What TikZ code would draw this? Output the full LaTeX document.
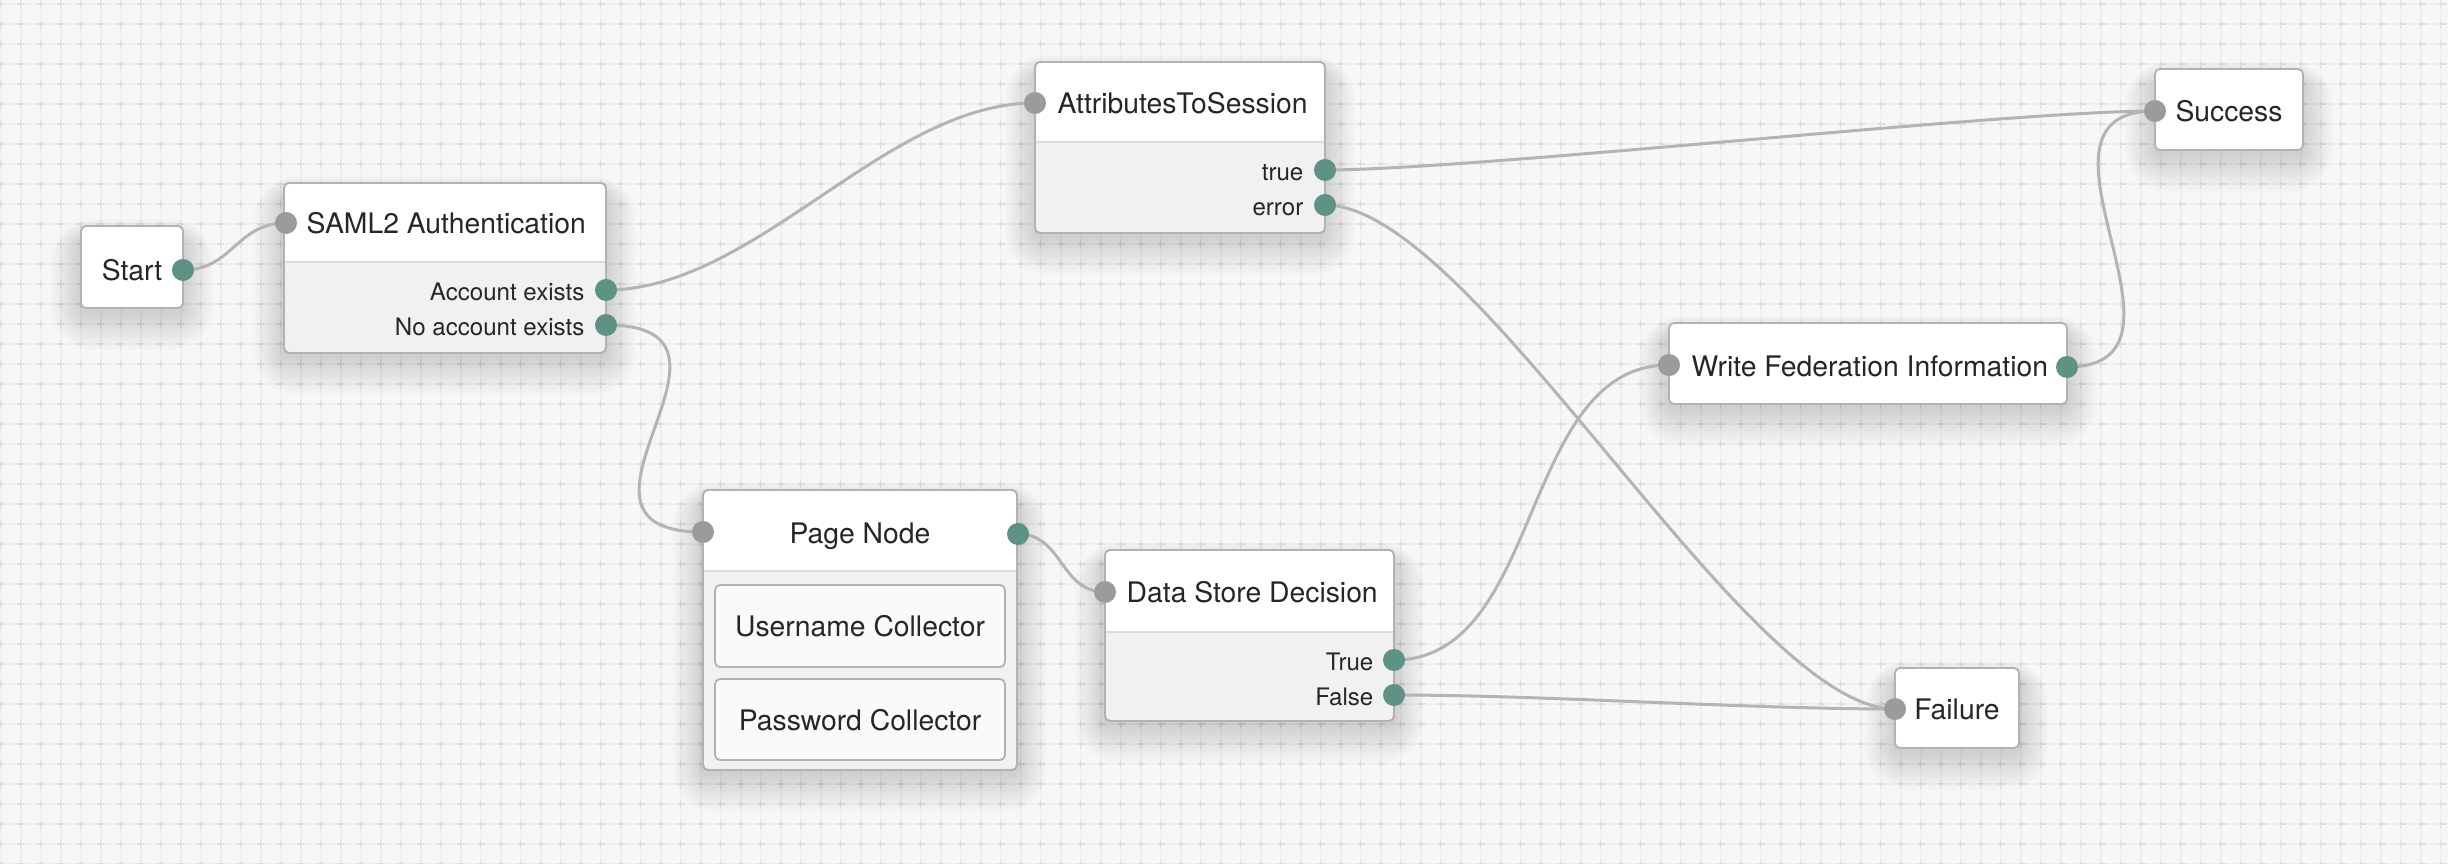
\documentclass[tikz,border=0pt]{standalone}
\usepackage{fontspec}
\setmainfont{TeX Gyre Heros}
\usepackage{tikz}
\definecolor{gridbg}{HTML}{F7F7F7}
\definecolor{gridline}{HTML}{F0F0F0}
\definecolor{gridcross}{HTML}{DEDEDE}
\definecolor{cardline}{HTML}{B2B2B2}
\definecolor{cardbody}{HTML}{F1F1F1}
\definecolor{innerfill}{HTML}{FAFAFA}
\definecolor{divline}{HTML}{DCDCDC}
\definecolor{portgrey}{HTML}{9B9B9B}
\definecolor{portgreen}{HTML}{5E9284}
\definecolor{wiregrey}{HTML}{B4B4B4}
\definecolor{ink}{HTML}{262626}
\pgfdeclarelayer{grid}
\pgfdeclarelayer{shade}
\pgfdeclarelayer{boxes}
\pgfdeclarelayer{wires}
\pgfsetlayers{grid,shade,boxes,wires,main}
\tikzset{card/.style={draw=cardline, line width=0.018cm, rounded corners=0.05cm}}
\tikzset{inport/.style={circle, fill=portgrey, inner sep=0pt, minimum size=0.22cm}}
\tikzset{outport/.style={circle, fill=portgreen, inner sep=0pt, minimum size=0.22cm}}
\tikzset{title/.style={text=ink, font=\fontsize{8.05}{9}\selectfont, inner sep=0pt,
    text height=0.72em, text depth=0pt}}
\tikzset{lab/.style={text=ink, font=\fontsize{6.85}{8}\selectfont, inner sep=0pt,
    text height=0.72em, text depth=0pt}}
\tikzset{wire/.style={draw=wiregrey, line width=0.03cm}}

\begin{document}
\begin{tikzpicture}[x=0.01cm,y=-0.01cm]
  \useasboundingbox (0,0) rectangle (2448,864);
  % dotted grid
  \begin{pgfonlayer}{grid}
    \fill[gridbg] (0,0) rectangle (2448,864);
    \begin{scope}
      \clip (0,0) rectangle (2448,864);
      \foreach \k in {0,...,122}
        \draw[gridline, line width=0.016cm] (\k*20+0.7,0) -- ++(0,864);
      \foreach \k in {0,...,43}
        \draw[gridline, line width=0.016cm] (0,\k*20+4) -- ++(2448,0);
      \foreach \k in {0,...,122}
        \draw[gridcross, line width=0.015cm, dash pattern=on 0.07cm off 0.13cm] (\k*20+0.7,0.5) -- ++(0,880);
      \foreach \k in {0,...,43}
        \draw[gridcross, line width=0.015cm, dash pattern=on 0.07cm off 0.13cm] (-2.8,\k*20+4) -- ++(2460,0);
    \end{scope}
  \end{pgfonlayer}
  % cards
  \begin{pgfonlayer}{boxes}
    \foreach \x/\y/\X/\Y/\d in {
      284/183/606/353/262,
      1035/62/1325/233/142,
      703/490/1017/770/571,
      1105/550/1394/721/632%
    } {
      \draw[card, fill=cardbody] (\x,\y) rectangle (\X,\Y);
      \begin{scope}
        \clip[rounded corners=0.05cm] (\x,\y) rectangle (\X,\Y);
        \fill[white] (\x,\y) rectangle (\X,\d);
      \end{scope}
      \draw[divline, line width=0.018cm] (\x,\d) -- (\X,\d);
      \draw[cardline, line width=0.018cm, rounded corners=0.05cm] (\x,\y) rectangle (\X,\Y);
      \begin{pgfonlayer}{shade}
        \foreach \s in {2,5,...,38}
          \fill[black, opacity=0.013, rounded corners=\s*0.01cm+0.05cm]
            (\x-0.8*\s,\y-0.5*\s+12) rectangle (\X+0.8*\s,\Y+\s+4);
      \end{pgfonlayer}
    }
    \foreach \x/\y/\X/\Y in {
      81/226/183/308,
      2155/69/2303/150,
      1669/323/2067/404,
      1895/668/2019/748%
    } {
      \draw[card, fill=white] (\x,\y) rectangle (\X,\Y);
      \begin{pgfonlayer}{shade}
        \foreach \s in {2,5,...,38}
          \fill[black, opacity=0.013, rounded corners=\s*0.01cm+0.05cm]
            (\x-0.8*\s,\y-0.5*\s+12) rectangle (\X+0.8*\s,\Y+\s+4);
      \end{pgfonlayer}
    }
    \foreach \y/\Y in {585/667, 679/760}
      \draw[cardline, fill=innerfill, line width=0.018cm, rounded corners=0.05cm] (715,\y) rectangle (1005,\Y);
  \end{pgfonlayer}
  % texts
  \node[title] (start) at (132,268) {Start};
  \node[title, anchor=west] (saml) at (306,221) {SAML2 Authentication};
  \node[lab, anchor=east] (saml-yes-lab) at (585,288) {Account exists};
  \node[lab, anchor=east] (saml-no-lab) at (585,323) {No account exists};
  \node[title, anchor=west] (attr) at (1057,101) {AttributesToSession};
  \node[lab, anchor=east] (attr-true-lab) at (1304,168) {true};
  \node[lab, anchor=east] (attr-error-lab) at (1304,203) {error};
  \node[title] (success) at (2229,109) {Success};
  \node[title, anchor=west] (wfed) at (1691,364) {Write Federation Information};
  \node[title] (page) at (860,531) {Page Node};
  \node[title] (user) at (860,624) {Username Collector};
  \node[title] (pass) at (860,718) {Password Collector};
  \node[title, anchor=west] (dstore) at (1126,590) {Data Store Decision};
  \node[lab, anchor=east] (dstore-true-lab) at (1374,658) {True};
  \node[lab, anchor=east] (dstore-false-lab) at (1374,693) {False};
  \node[title] (failure) at (1957,707) {Failure};
  % ports
  \foreach \name/\x/\y/\kind in {
    start-out/183/270/outport,
    saml-in/286/223/inport,
    saml-yes/606/290/outport,
    saml-no/606/325/outport,
    attr-in/1035/103/inport,
    attr-true/1325/170/outport,
    attr-error/1325/205/outport,
    success-in/2155/111/inport,
    wfed-in/1669/365/inport,
    wfed-out/2067/367/outport,
    page-in/703/532/inport,
    page-out/1018/534/outport,
    dstore-in/1105/592/inport,
    dstore-true/1394/660/outport,
    dstore-false/1394/695/outport,
    failure-in/1895/709/inport%
  } {
    \node[\kind] (\name) at (\x,\y) {};
  }
  % connectors
  \begin{pgfonlayer}{wires}
    \foreach \u/\v/\a in {
      start-out/saml-in/50,
      saml-yes/attr-in/150,
      saml-no/page-in/170,
      page-out/dstore-in/45,
      attr-true/success-in/150,
      attr-error/failure-in/150,
      dstore-true/wfed-in/150,
      dstore-false/failure-in/150,
      wfed-out/success-in/150%
    } {
      \draw[wire] (\u.center) .. controls +(\a,0) and +(-\a,0) .. (\v.center);
    }
  \end{pgfonlayer}
\end{tikzpicture}
\end{document}
